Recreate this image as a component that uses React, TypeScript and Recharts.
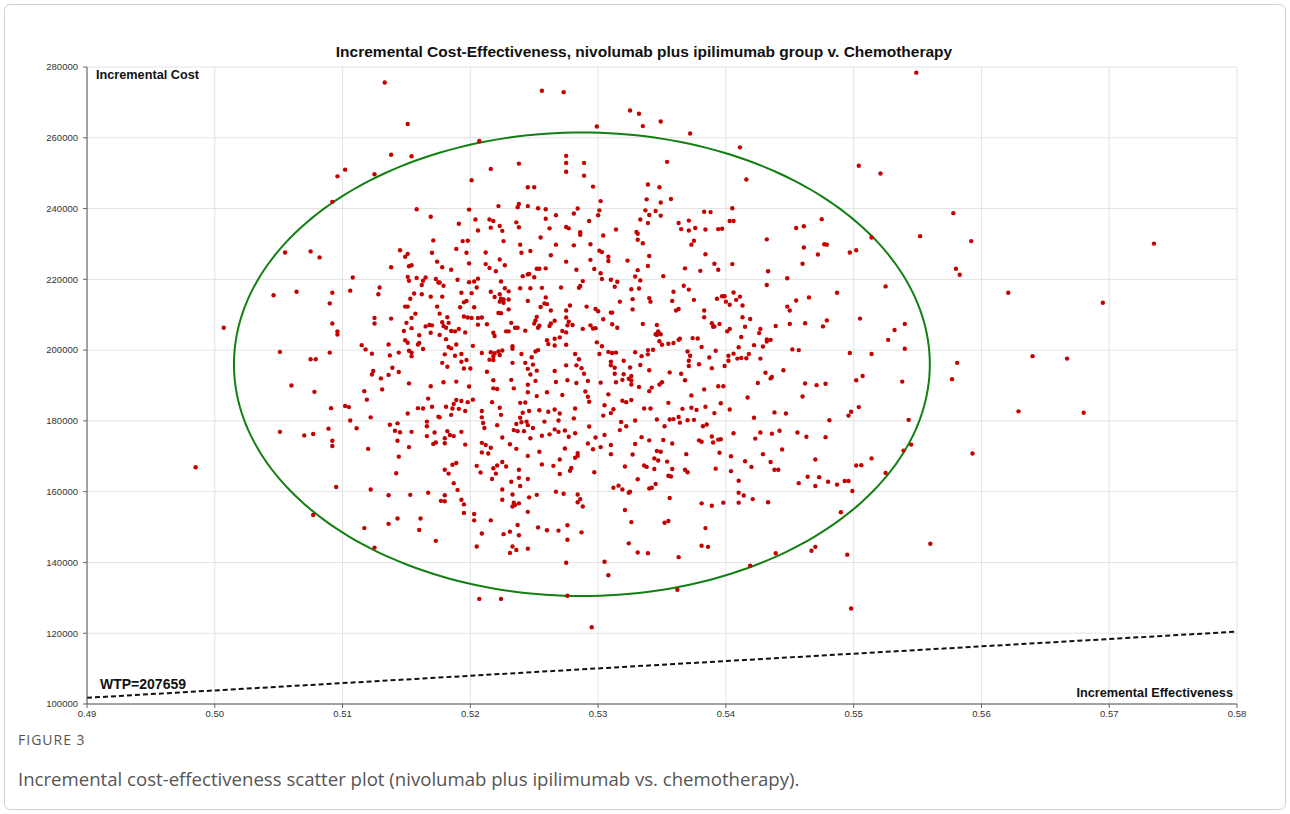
import { CartesianGrid, ReferenceLine, Scatter, ScatterChart, XAxis, YAxis } from "recharts"

type Pt = [number, number]

const X_TICKS = [0.49, 0.5, 0.51, 0.52, 0.53, 0.54, 0.55, 0.56, 0.57, 0.58]
const Y_TICKS = [100000, 120000, 140000, 160000, 180000, 200000, 220000, 240000, 260000, 280000]
const WTP = 207659
// confidence ellipse: centre and semi-axes
const ELLIPSE_CENTER: Pt = [0.52873, 196000]
const ELLIPSE_RADII: Pt = [0.02723, 65500]

// simulations, grouped by region of the plot
const northWest: Pt[] = [
  [0.5133, 275600], [0.5151, 263900], [0.5138, 255200], [0.5154, 254800], [0.5096, 249100], [0.5102, 251000],
  [0.5125, 249700], [0.5092, 241900], [0.5158, 239800], [0.5169, 237700], [0.5171, 231000], [0.5055, 227600],
  [0.5075, 227900], [0.5145, 228200], [0.5151, 227200], [0.517, 227500],
]

const north: Pt[] = [
  [0.5256, 273300], [0.5273, 272900], [0.5325, 267700], [0.5332, 266800], [0.5335, 263300], [0.5349, 264600],
  [0.5299, 263200], [0.5372, 261200], [0.5207, 259100], [0.5354, 253200], [0.5238, 252700], [0.5216, 251200],
  [0.5275, 254900], [0.5275, 252900], [0.5289, 252900], [0.5275, 250400], [0.5289, 249300], [0.5201, 248000],
  [0.5245, 246000], [0.525, 246000], [0.5296, 246200], [0.5339, 246800], [0.5348, 246000], [0.5338, 242600],
  [0.5349, 241700], [0.5357, 242700], [0.5302, 242100], [0.5222, 240700], [0.5238, 241300], [0.5237, 240400],
  [0.5245, 240700], [0.5199, 239700], [0.5253, 240100], [0.5259, 239800], [0.5284, 240000], [0.5301, 239500],
  [0.5281, 238600], [0.5267, 238100], [0.53, 238100], [0.5337, 239500], [0.5345, 239300], [0.534, 238200],
  [0.5349, 238000], [0.5191, 235700], [0.5204, 236900], [0.5215, 236900], [0.5218, 236500], [0.5236, 236100],
  [0.5259, 237100], [0.5293, 236500], [0.5333, 236900], [0.5339, 235900], [0.5363, 235900], [0.5371, 236600],
  [0.5216, 234600], [0.5223, 235100], [0.5225, 233700], [0.5206, 233800], [0.5238, 234700], [0.5262, 234400],
  [0.5275, 234800], [0.5277, 234400], [0.5286, 233300], [0.5286, 232600], [0.5314, 234100], [0.533, 233400],
  [0.5331, 232900], [0.5365, 234200], [0.5371, 233800], [0.5304, 232400], [0.5255, 231800], [0.5194, 230800],
  [0.5198, 230900], [0.5226, 230800], [0.5331, 231200], [0.5239, 229800], [0.5267, 229800], [0.5281, 229600],
  [0.5294, 229900], [0.5335, 230200], [0.5189, 228600], [0.5197, 227500], [0.5212, 227600], [0.524, 227500],
  [0.5247, 228000], [0.5301, 228100], [0.5303, 227700],
]

const northEast: Pt[] = [
  [0.5549, 278400], [0.5411, 257300], [0.5416, 248200], [0.5504, 252100], [0.5521, 249900], [0.5383, 239100],
  [0.5388, 239000], [0.5405, 240100], [0.5403, 236500], [0.5406, 236500], [0.5376, 234500], [0.5384, 234100],
  [0.5394, 234200], [0.5397, 234300], [0.5375, 230900], [0.5373, 229800], [0.5432, 231300], [0.5455, 234500],
  [0.5461, 235000], [0.5475, 237000], [0.5461, 229000], [0.5477, 229900], [0.5479, 229800], [0.5472, 227000],
  [0.5497, 227600], [0.5502, 228200], [0.5514, 231800], [0.5552, 232200], [0.5384, 227100], [0.5578, 238700],
  [0.5592, 230800], [0.5735, 230100],
]

const west: Pt[] = [
  [0.5082, 226200], [0.5046, 215500], [0.5064, 216500], [0.5092, 216200], [0.509, 213200], [0.5007, 206300],
  [0.5092, 207500], [0.5096, 205300], [0.5096, 204400], [0.5051, 199500], [0.5075, 197400], [0.5079, 197400],
  [0.509, 199300], [0.506, 190000], [0.5078, 188200], [0.5091, 183600], [0.5102, 184200], [0.5105, 183900],
  [0.5106, 180100], [0.5111, 177900], [0.5089, 177800], [0.5092, 174400], [0.5092, 172900], [0.5051, 176900],
  [0.507, 175900], [0.5077, 176300], [0.512, 172100], [0.5108, 220500], [0.5106, 216800], [0.5129, 217700],
  [0.5128, 215800], [0.5138, 223400], [0.5125, 209100], [0.5125, 207500], [0.5138, 208900], [0.5115, 201400],
  [0.5118, 200200], [0.5123, 199000], [0.5136, 201600], [0.5137, 198500], [0.5144, 199300], [0.5124, 194100],
  [0.5123, 193100], [0.513, 192000], [0.5136, 193000], [0.5139, 195000], [0.5144, 193800], [0.5117, 188400],
  [0.5119, 186000], [0.5131, 188900], [0.5122, 181000], [0.5137, 178900], [0.5143, 179300], [0.5141, 177200],
  [0.5145, 176800], [0.5143, 174400], [0.5152, 172600], [0.5154, 176900], [0.5151, 182100], [0.5152, 190600],
  [0.5159, 183600], [0.5163, 183500], [0.517, 184000], [0.5167, 186300], [0.5169, 189800], [0.5166, 179800],
  [0.5166, 178500], [0.5175, 181200], [0.5172, 176700], [0.5166, 175700], [0.5173, 173900], [0.5171, 173500],
  [0.5149, 226400], [0.5152, 223700], [0.5154, 224000], [0.5151, 220700], [0.5152, 219600], [0.5158, 220400],
  [0.5163, 219600], [0.5165, 220500], [0.5162, 218400], [0.5174, 225000], [0.5173, 220100], [0.5175, 219100],
  [0.5156, 216000], [0.5162, 215800], [0.5153, 214500], [0.5169, 215100], [0.5174, 212300], [0.5149, 212300],
  [0.5151, 212300], [0.5157, 210300], [0.5154, 209100], [0.515, 207700], [0.5154, 206200], [0.5165, 206700],
  [0.5168, 207100], [0.517, 207000], [0.5169, 204900], [0.5148, 205400], [0.516, 204200], [0.5149, 202800],
  [0.5151, 202100], [0.5159, 201600], [0.516, 202000], [0.5163, 200300], [0.5152, 199800], [0.5154, 199300],
  [0.5154, 198300],
]

const coreUpper: Pt[] = [
  [0.5178, 223400], [0.5185, 222700], [0.5199, 224500], [0.5212, 224300], [0.5215, 223200], [0.522, 222300],
  [0.5223, 225600], [0.5227, 224000], [0.5241, 220900], [0.5245, 221400], [0.5246, 221500], [0.525, 220600],
  [0.5252, 223000], [0.5254, 223000], [0.5259, 223100], [0.5263, 226800], [0.5275, 225000], [0.5283, 222700],
  [0.5294, 225500], [0.5297, 222900], [0.5302, 221700], [0.5308, 226400], [0.5308, 225200], [0.5323, 225300],
  [0.5329, 220800], [0.5331, 222600], [0.534, 226600], [0.5339, 223800], [0.5351, 220900], [0.5368, 223100],
  [0.5176, 219100], [0.5179, 218200], [0.519, 219900], [0.5199, 219200], [0.5203, 219400], [0.5206, 220200],
  [0.5205, 217700], [0.5224, 219400], [0.5227, 217500], [0.5239, 217500], [0.5247, 217500], [0.5256, 217600],
  [0.5271, 217700], [0.5285, 217600], [0.5286, 218100], [0.5288, 219500], [0.5303, 220100], [0.531, 219900],
  [0.5313, 217900], [0.5315, 219300], [0.5326, 217200], [0.5332, 217400], [0.5333, 219700], [0.5359, 216500],
  [0.5367, 218200], [0.5371, 217100], [0.5193, 216200], [0.5201, 216100], [0.5216, 216500], [0.5219, 215000],
  [0.5223, 215800], [0.523, 216600], [0.5178, 215100], [0.5195, 213500], [0.5197, 213900], [0.5192, 212100],
  [0.5203, 212100], [0.5224, 214500], [0.5223, 213700], [0.5226, 214300], [0.523, 214300], [0.5226, 213400],
  [0.523, 211500], [0.5245, 213900], [0.5255, 212200], [0.5259, 214900], [0.5258, 213200], [0.526, 213000],
  [0.5263, 211200], [0.5275, 211200], [0.5278, 212600], [0.5291, 212300], [0.5298, 211600], [0.53, 211000],
  [0.531, 210600], [0.5311, 210600], [0.5317, 213700], [0.5327, 211500], [0.5327, 214400], [0.534, 214700],
  [0.5341, 213700], [0.5358, 213900], [0.5361, 211200], [0.5363, 211600], [0.5176, 210300], [0.5222, 210500],
  [0.5224, 210400], [0.5182, 209300], [0.5178, 207900], [0.5179, 206800], [0.5183, 207700], [0.5195, 209500],
  [0.5198, 209200], [0.5201, 209100], [0.5206, 209100], [0.5209, 209200], [0.5191, 206000], [0.5181, 206300],
  [0.5185, 205400], [0.5188, 205300], [0.5196, 205000], [0.5206, 207200], [0.5213, 207300], [0.5218, 204900],
  [0.5219, 204000], [0.5232, 207700], [0.5228, 205300], [0.523, 205300], [0.5235, 206300], [0.5237, 206300],
  [0.5243, 205500], [0.5252, 209400], [0.5251, 208400], [0.525, 207500], [0.5254, 206900], [0.5253, 206300],
  [0.5263, 207500], [0.5262, 206800], [0.5266, 208300], [0.5277, 208000], [0.5276, 207000], [0.5275, 209200],
  [0.5272, 205400], [0.5275, 205000], [0.528, 207100], [0.5288, 206000], [0.5294, 207000], [0.5296, 206100],
  [0.5298, 206200], [0.5304, 208700], [0.5311, 207300], [0.5315, 206300], [0.5335, 207400], [0.5346, 207100],
  [0.5347, 205300], [0.5346, 204300], [0.5349, 204500], [0.5345, 204500], [0.5364, 203200], [0.5363, 202900],
  [0.5359, 202000], [0.5355, 201800], [0.535, 201500], [0.5176, 204300],
]

const coreMiddle: Pt[] = [
  [0.5181, 203100], [0.5183, 200900], [0.5185, 200500], [0.5189, 201600], [0.518, 198800], [0.5188, 198400],
  [0.5193, 198900], [0.5202, 201200], [0.5209, 199200], [0.5216, 199400], [0.5219, 199100], [0.5218, 198300],
  [0.5222, 199600], [0.5225, 199900], [0.5223, 198600], [0.5218, 197200], [0.5215, 197300], [0.5233, 201100],
  [0.5233, 200400], [0.524, 198900], [0.5251, 199600], [0.5253, 200000], [0.5261, 201700], [0.526, 202800],
  [0.5266, 203200], [0.5266, 201300], [0.527, 203600], [0.5275, 201500], [0.5282, 198900], [0.5299, 202200],
  [0.5303, 201100], [0.5301, 198900], [0.5308, 199500], [0.5311, 199200], [0.5314, 199300], [0.5329, 199400],
  [0.5334, 198300], [0.5339, 198800], [0.5339, 200000], [0.5343, 200100], [0.537, 199600], [0.5372, 198400],
  [0.5348, 202500], [0.5178, 196400], [0.5182, 195300], [0.5193, 196700], [0.5197, 197200], [0.52, 194800],
  [0.5195, 194800], [0.5213, 193900], [0.5233, 196400], [0.5243, 196400], [0.5248, 198000], [0.5249, 195900],
  [0.5252, 194200], [0.5245, 194700], [0.5247, 193100], [0.5266, 194100], [0.5275, 195700], [0.5283, 195700],
  [0.5285, 197400], [0.5287, 194900], [0.5289, 193300], [0.531, 196700], [0.531, 195700], [0.5313, 195000],
  [0.5313, 193300], [0.532, 197000], [0.5325, 195100], [0.532, 193200], [0.5326, 192700], [0.5333, 195800],
  [0.534, 194300], [0.5356, 193700], [0.5365, 193300], [0.5371, 197000], [0.5371, 195500], [0.5179, 190900],
  [0.5189, 191100], [0.5199, 189700], [0.5218, 191500], [0.5218, 189200], [0.5221, 189000], [0.5232, 191600],
  [0.5234, 189200], [0.5245, 190200], [0.5251, 191300], [0.526, 188100], [0.5267, 191000], [0.5276, 191500],
  [0.5283, 190700], [0.5292, 191300], [0.5302, 190800], [0.5308, 187500], [0.5314, 190900], [0.5319, 191600],
  [0.5324, 191900], [0.5326, 191400], [0.5326, 190300], [0.5332, 189600], [0.534, 188400], [0.5342, 189400],
  [0.5348, 190300], [0.535, 190900], [0.5368, 191500], [0.5245, 188100], [0.5252, 187000], [0.5272, 187300],
  [0.529, 188300], [0.5292, 186800], [0.5293, 185400],
]

const coreLower: Pt[] = [
  [0.5189, 185900], [0.5193, 185600], [0.5198, 185300], [0.5202, 186000], [0.5187, 184800], [0.5186, 183500],
  [0.5181, 184000], [0.5191, 183400], [0.5196, 182800], [0.5209, 182800], [0.5217, 185300], [0.5223, 183700],
  [0.5224, 181700], [0.5239, 185100], [0.5243, 185200], [0.5241, 182300], [0.5246, 182800], [0.5254, 183000],
  [0.5261, 182600], [0.5266, 183200], [0.527, 182100], [0.5282, 183500], [0.5305, 184400], [0.531, 182200],
  [0.5312, 183300], [0.5319, 185700], [0.5322, 185300], [0.5326, 185900], [0.5336, 183500], [0.5341, 183500],
  [0.5355, 185100], [0.5366, 183400], [0.5373, 183700], [0.5185, 181700], [0.5176, 181000], [0.5209, 181000],
  [0.521, 179400], [0.5211, 178000], [0.5239, 180900], [0.5236, 179100], [0.524, 179600], [0.5244, 179800],
  [0.5245, 178800], [0.5242, 177100], [0.5237, 177100], [0.5234, 177400], [0.5249, 178000], [0.5258, 179800],
  [0.5266, 177600], [0.5269, 180100], [0.5281, 180700], [0.5293, 178400], [0.5304, 181500], [0.5318, 179700],
  [0.5322, 178500], [0.5329, 180100], [0.5346, 180400], [0.5352, 178500], [0.5356, 180400], [0.5359, 180500],
  [0.5363, 181100], [0.5364, 179500], [0.537, 180200], [0.5182, 177100], [0.5193, 176900], [0.5221, 178800],
  [0.518, 175100], [0.5184, 176000], [0.5187, 175700], [0.518, 173700], [0.5196, 173300], [0.5209, 173800],
  [0.5212, 173200], [0.5216, 172400], [0.5209, 171100], [0.5225, 175300], [0.5231, 173400], [0.5236, 172100],
  [0.5247, 175100], [0.5254, 171300], [0.5256, 175800], [0.5262, 176200], [0.5269, 176900], [0.5274, 177300],
  [0.5277, 175500], [0.5282, 176500], [0.5292, 173600], [0.5298, 175300], [0.5302, 172600], [0.5305, 176000],
  [0.531, 173200], [0.5317, 177400], [0.5329, 173500], [0.5334, 175400], [0.534, 174500], [0.5346, 171500],
  [0.5351, 174600], [0.5358, 173600], [0.5369, 170600], [0.5214, 170800], [0.5274, 172200], [0.5284, 170900],
  [0.5296, 172000], [0.531, 170600], [0.5327, 170500], [0.5349, 171300],
]

const east: Pt[] = [
  [0.5391, 224400], [0.5394, 222700], [0.5405, 224300], [0.538, 222400], [0.5433, 222300], [0.546, 224400],
  [0.5448, 220300], [0.5432, 218400], [0.5406, 216300], [0.5393, 214500], [0.5397, 215200], [0.5399, 215200],
  [0.54, 213700], [0.5403, 212800], [0.5408, 214200], [0.5411, 215100], [0.5413, 212600], [0.5375, 214200],
  [0.5383, 211200], [0.5383, 209300], [0.5413, 209300], [0.5419, 208800], [0.5389, 207600], [0.539, 206600],
  [0.5391, 206700], [0.5395, 207400], [0.5415, 206600], [0.5403, 206000], [0.5401, 205300], [0.5427, 206000],
  [0.5426, 204800], [0.5439, 206800], [0.5448, 212300], [0.545, 211200], [0.5455, 214000], [0.5465, 214900],
  [0.5487, 216200], [0.545, 207400], [0.5462, 207600], [0.5476, 206700], [0.5479, 208400], [0.5505, 208900],
  [0.5525, 218000], [0.5532, 205700], [0.554, 207400], [0.5527, 202900], [0.554, 200400], [0.5514, 198900],
  [0.5497, 199200], [0.5374, 203400], [0.5378, 203300], [0.5381, 200900], [0.5412, 203700], [0.541, 200800],
  [0.5422, 201400], [0.5429, 201000], [0.5432, 203000], [0.5432, 202400], [0.5435, 202900], [0.5392, 199800],
  [0.5406, 199000], [0.5402, 198400], [0.5409, 197600], [0.5412, 197800], [0.5416, 197700], [0.5418, 198900],
  [0.5402, 197000], [0.5427, 197600], [0.5387, 197900], [0.5379, 196000], [0.5389, 194900], [0.5399, 195500],
  [0.5452, 200200], [0.5457, 200000], [0.5445, 194300], [0.5431, 193600], [0.5436, 192400], [0.5435, 192000],
  [0.5425, 190700], [0.5462, 190600], [0.5471, 190100], [0.5478, 190500], [0.5507, 192700], [0.5502, 191500],
  [0.5538, 191100], [0.546, 186900], [0.5417, 186600], [0.5394, 189800], [0.5398, 189800], [0.5383, 188900],
  [0.5373, 187200], [0.5396, 185000], [0.5384, 184000], [0.5377, 183100], [0.5391, 182200], [0.5403, 183200],
  [0.5438, 182400], [0.5447, 182100], [0.5422, 180900], [0.5498, 182600], [0.5496, 181500], [0.5504, 183900],
  [0.5481, 180200], [0.5543, 180300], [0.5375, 180300], [0.5382, 178500], [0.5385, 179000], [0.5406, 176500],
  [0.5427, 176700], [0.5436, 176400], [0.5442, 177200], [0.5456, 176700], [0.5463, 175500], [0.5478, 175400],
  [0.5423, 175000], [0.5389, 175600], [0.5379, 174500], [0.5381, 174100], [0.539, 173900], [0.5394, 174700],
  [0.5396, 174800], [0.5444, 171900], [0.5429, 170600], [0.5395, 171000], [0.5545, 173300], [0.5539, 171600],
]

const farEast: Pt[] = [
  [0.558, 223000], [0.5583, 221300], [0.5621, 216200], [0.5695, 213400], [0.564, 198300], [0.5667, 197600],
  [0.5581, 196400], [0.5577, 191800], [0.5629, 182700], [0.568, 182300], [0.5593, 170800],
]

const southWest: Pt[] = [
  [0.4985, 166900], [0.5144, 169900], [0.5142, 165200], [0.5095, 161300], [0.5122, 160600], [0.5136, 159000],
  [0.5153, 159100], [0.5167, 159700], [0.5077, 153400], [0.5117, 149700], [0.5136, 150900], [0.5143, 152400],
  [0.5161, 152400], [0.516, 149200], [0.5173, 146100], [0.5125, 144200],
]

const south: Pt[] = [
  [0.518, 166200], [0.5183, 165100], [0.5186, 167600], [0.5189, 168100], [0.5187, 162400], [0.519, 160500],
  [0.518, 159000], [0.5177, 157400], [0.518, 157300], [0.5193, 157700], [0.5195, 156400], [0.5195, 154000],
  [0.5203, 153700], [0.5203, 151900], [0.5205, 144500], [0.5209, 148200], [0.5205, 167300], [0.5208, 165400],
  [0.5218, 166600], [0.5221, 167400], [0.5225, 168400], [0.5228, 167100], [0.522, 165100], [0.5217, 163600],
  [0.5238, 166200], [0.5245, 170100], [0.5238, 163900], [0.5245, 163600], [0.5232, 162800], [0.5239, 161600],
  [0.5225, 160600], [0.5225, 157700], [0.5233, 159200], [0.5234, 156900], [0.5233, 155800], [0.5235, 156200],
  [0.5238, 156700], [0.5246, 158400], [0.5245, 154300], [0.5252, 159100], [0.5256, 167700], [0.5265, 167300],
  [0.527, 169100], [0.527, 165000], [0.5267, 160000], [0.5273, 159400], [0.5278, 165900], [0.5279, 166700],
  [0.5282, 169600], [0.5284, 170100], [0.5284, 159200], [0.5286, 157900], [0.5284, 157000], [0.5288, 155800],
  [0.5297, 165500], [0.5216, 151900], [0.5226, 148000], [0.5231, 148700], [0.5237, 150600], [0.5238, 147700],
  [0.5233, 144500], [0.5231, 142700], [0.5236, 143500], [0.5245, 143900], [0.5253, 149900], [0.526, 149100],
  [0.5269, 149000], [0.5276, 150500], [0.5276, 146400], [0.5275, 139900], [0.5287, 148500], [0.5207, 129700],
  [0.5224, 129700], [0.5276, 130600], [0.5295, 121700], [0.5305, 140200], [0.5308, 136400], [0.5321, 167100],
  [0.5312, 161100], [0.5316, 161700], [0.5319, 160600], [0.5324, 159700], [0.5325, 160000], [0.5321, 154800],
  [0.5326, 151400], [0.5324, 145400], [0.5331, 142800], [0.5339, 142600], [0.5331, 163500], [0.5336, 167400],
  [0.5338, 167000], [0.5344, 169400], [0.5347, 168800], [0.5354, 168500], [0.5344, 166400], [0.5358, 166400],
  [0.5355, 164500], [0.5357, 164300], [0.534, 160900], [0.5342, 161100], [0.5345, 162200], [0.5356, 158200],
  [0.5355, 151700], [0.5352, 151200], [0.5363, 141500], [0.5362, 132300], [0.5368, 166200], [0.537, 165500],
]

const southEast: Pt[] = [
  [0.5404, 170000], [0.5415, 168600], [0.5435, 168400], [0.5392, 166500], [0.542, 167000], [0.5404, 165800],
  [0.5438, 166200], [0.5441, 166200], [0.547, 169100], [0.5514, 169400], [0.5502, 167400], [0.5506, 167500],
  [0.5525, 165300], [0.541, 163100], [0.5457, 162400], [0.5464, 164200], [0.5473, 164100], [0.547, 161600],
  [0.548, 162800], [0.5487, 162000], [0.5493, 163000], [0.5496, 163000], [0.5499, 160200], [0.541, 159700],
  [0.5414, 158900], [0.5421, 157900], [0.541, 156900], [0.5433, 157000], [0.5381, 156700], [0.5389, 156000],
  [0.5398, 156900], [0.549, 154200], [0.5384, 149700], [0.5381, 144700], [0.5386, 144400], [0.5439, 142600],
  [0.5467, 143300], [0.547, 144400], [0.5495, 142200], [0.5419, 139100], [0.5498, 127000], [0.556, 145300],
]

const POINTS = [
  ...northWest, ...north, ...northEast, ...west, ...coreUpper, ...coreMiddle, ...coreLower,
  ...east, ...farEast, ...southWest, ...south, ...southEast,
].map(([x, y]) => ({ x, y }))

const ELLIPSE = Array.from({ length: 241 }, (_, i) => {
  const t = (i / 240) * 2 * Math.PI
  return { x: ELLIPSE_CENTER[0] + ELLIPSE_RADII[0] * Math.cos(t), y: ELLIPSE_CENTER[1] + ELLIPSE_RADII[1] * Math.sin(t) }
})

const FONT = '"Liberation Sans", Arial, sans-serif'
const CAPTION_FONT = '"Open Sans", sans-serif'
const TICK = { fontSize: 9.5, fill: "#333", fontFamily: FONT }
const RED = "#c40000"
const GREEN = "#118011"

const Dot = (p: any) => <circle cx={p.cx} cy={p.cy} r={2.2} fill={RED} />

export default function App() {
  return (
    <div style={{ position: "relative", width: 1290, height: 814, background: "#fff", fontFamily: FONT }}>
      <style>{`body{margin:0}`}</style>
      <ScatterChart width={1290} height={740} margin={{ top: 67, right: 53, bottom: 16, left: 0 }}>
        <CartesianGrid stroke="#e3e3e3" />
        <XAxis
          type="number"
          dataKey="x"
          domain={[0.49, 0.58]}
          ticks={X_TICKS}
          tickFormatter={(v: number) => v.toFixed(2)}
          tick={TICK}
          tickSize={4}
          tickLine={{ stroke: "#666" }}
          axisLine={{ stroke: "#555" }}
          height={20}
          allowDataOverflow
        />
        <YAxis
          type="number"
          dataKey="y"
          domain={[100000, 280000]}
          ticks={Y_TICKS}
          tick={TICK}
          tickSize={4}
          tickMargin={5}
          tickLine={{ stroke: "#666" }}
          axisLine={{ stroke: "#555" }}
          width={87}
          allowDataOverflow
        />
        <ReferenceLine
          segment={[
            { x: 0.49, y: WTP * 0.49 },
            { x: 0.58, y: WTP * 0.58 },
          ]}
          stroke="#111"
          strokeWidth={2}
          strokeDasharray="5 3"
        />
        <Scatter data={ELLIPSE} line={{ stroke: GREEN, strokeWidth: 2 }} shape={() => <g />} isAnimationActive={false} />
        <Scatter data={POINTS} shape={Dot} isAnimationActive={false} />
      </ScatterChart>
      <svg width={1290} height={814} style={{ position: "absolute", left: 0, top: 0, pointerEvents: "none" }}>
        <rect x={4.5} y={4.5} width={1281} height={805} rx={6} fill="none" stroke="#cfcfcf" />
        <text x={644} y={57} textAnchor="middle" fontFamily={FONT} fontWeight="bold" fontSize={15.5} fill="#111">
          Incremental Cost-Effectiveness, nivolumab plus ipilimumab group v. Chemotherapy
        </text>
        <text x={96} y={79} fontFamily={FONT} fontWeight="bold" fontSize={12.7} fill="#111">
          Incremental Cost
        </text>
        <text x={1233} y={697} textAnchor="end" fontFamily={FONT} fontWeight="bold" fontSize={12.7} fill="#111">
          Incremental Effectiveness
        </text>
        <text x={100} y={689} fontFamily={FONT} fontWeight="bold" fontSize={14} fill="#111">
          WTP=207659
        </text>
        <text x={18} y={745} fontFamily={CAPTION_FONT} fontSize={14} letterSpacing={1} fill="#555">
          FIGURE 3
        </text>
        <text x={18} y={786} fontFamily={CAPTION_FONT} fontSize={18.6} fill="#555">
          Incremental cost-effectiveness scatter plot (nivolumab plus ipilimumab vs. chemotherapy).
        </text>
      </svg>
    </div>
  )
}
